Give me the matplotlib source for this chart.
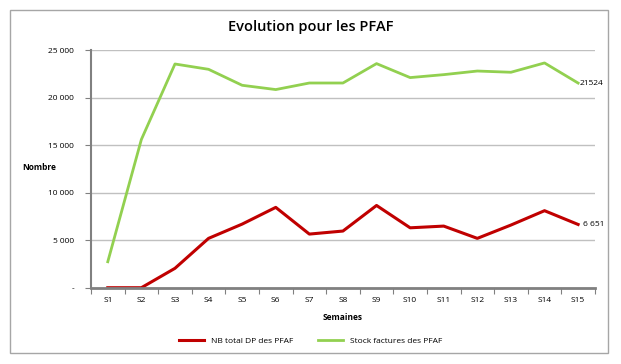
import matplotlib.pyplot as plt
from matplotlib.patches import Rectangle
from matplotlib.ticker import FuncFormatter, FixedLocator

weeks = ["S%d" % i for i in range(1, 16)]
nb_total_dp = [0, 0, 2040, 5190, 6690, 8450, 5640, 5960, 8650, 6300, 6480, 5190, 6590, 8100, 6651]
stock_factures = [2730, 15590, 23530, 22970, 21290, 20840, 21530, 21530, 23570, 22100, 22410, 22790, 22660, 23640, 21524]
end_labels = ["6 651", "21524"]

plt.rcParams['font.family'] = ['Open Sans', 'DejaVu Sans']

fig = plt.figure(figsize=(6.21, 3.64), dpi=100)
# chart frame
fig.patches.append(Rectangle((10 / 621, 1 - 353 / 364), 598 / 621, 343 / 364,
                             transform=fig.transFigure, fill=False,
                             edgecolor='#a6a6a6', linewidth=1.0))

ax = fig.add_axes([0.1465, 0.2096, 0.8115, 0.653])
x = list(range(len(weeks)))

red = '#c00000'
green = '#92d050'
ax.plot(x, nb_total_dp, color=red, linewidth=2.2, label='NB total DP des PFAF')
ax.plot(x, stock_factures, color=green, linewidth=2, label='Stock factures des PFAF')

ax.set_xlim(-0.5, len(weeks) - 0.5)
ax.set_ylim(0, 25000)
ax.set_yticks(range(0, 25001, 5000))


def fmt(v, pos):
    if v == 0:
        return "-"
    return "{:,}".format(int(v)).replace(",", " ")


ax.yaxis.set_major_formatter(FuncFormatter(fmt))
ax.set_xticks(x)
ax.set_xticklabels(weeks)
ax.xaxis.set_minor_locator(FixedLocator([i - 0.5 for i in range(len(weeks) + 1)]))
ax.tick_params(axis='x', which='major', length=0, labelsize=6, pad=7)
ax.tick_params(axis='x', which='minor', length=4, color='#808080', width=0.8)
ax.tick_params(axis='y', labelsize=6, length=4, color='#808080', width=0.8, pad=8)

ax.grid(axis='y', color='#c0c0c0', linewidth=1)
ax.set_axisbelow(True)
for s in ['top', 'right']:
    ax.spines[s].set_visible(False)
ax.spines['left'].set_color('#808080')
ax.spines['left'].set_linewidth(1.5)
ax.spines['bottom'].set_color('#808080')
ax.spines['bottom'].set_linewidth(2)

ax.text(x[-1] + 0.15, nb_total_dp[-1], end_labels[0], fontsize=6, va='center')
ax.text(x[-1] + 0.05, stock_factures[-1], end_labels[1], fontsize=6, va='center')

fig.text(0.5, 1 - 27 / 364, "Evolution pour les PFAF", ha='center', va='center',
         fontsize=10.5, fontweight='semibold')
fig.text(22 / 621, 1 - 168 / 364, "Nombre", ha='left', va='center', fontsize=6,
         fontweight='bold')
ax.set_xlabel("Semaines", fontsize=6, fontweight='bold', labelpad=6)

fig.legend(loc='center', bbox_to_anchor=(0.5, 1 - 341 / 364), ncol=2, frameon=False,
           fontsize=6, handlelength=3, columnspacing=3)

fig.savefig("out.png", dpi=100)
